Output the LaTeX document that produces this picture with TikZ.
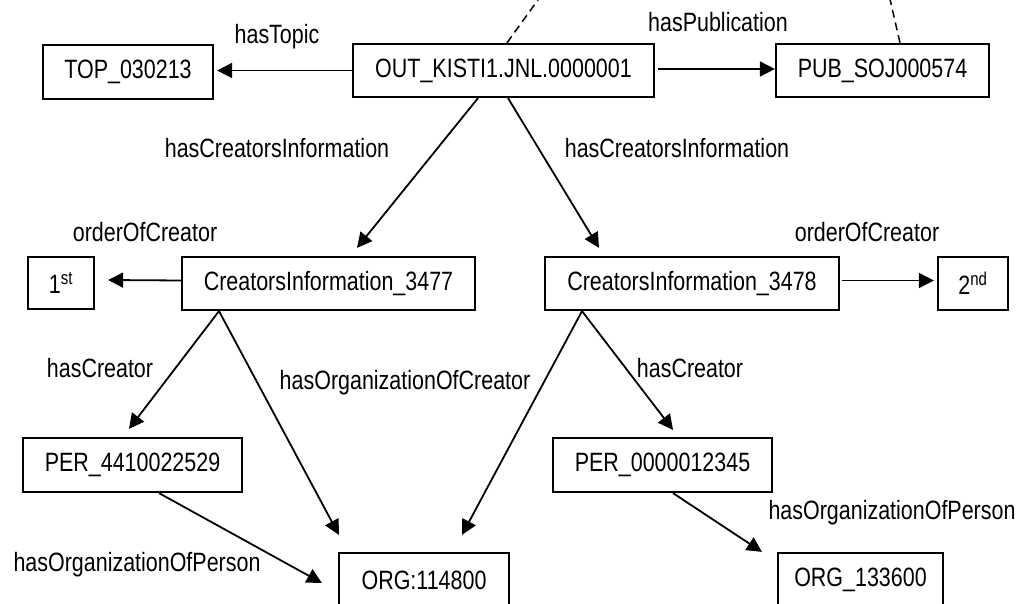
\documentclass[tikz,border=0pt]{standalone}
\usepackage{fontspec}
\setmainfont{Liberation Sans}[FakeStretch=0.81]
\usetikzlibrary{arrows.meta}
\begin{document}
\begin{tikzpicture}[x=1pt,y=-1pt,
  every node/.style={font=\fontsize{26.5}{31}\selectfont, inner sep=0pt},
  res/.style={draw, line width=2.2pt, minimum height=54pt},
  lbl/.style={},
  rel/.style={line width=1.8pt, -{Triangle[length=15pt,width=15pt]}},
  link/.style={line width=1.5pt, dash pattern=on 8pt off 5pt}]
  \useasboundingbox (0,0) rectangle (1020,604);
  \clip (0,0) rectangle (1020,604);

  % resources
  \node[res, minimum width=170pt] (top) at (128,72) {TOP\_030213};
  \node[res, minimum width=301pt, minimum height=53pt] (out) at (503.5,70.5) {OUT\_KISTI1.JNL.0000001};
  \node[res, minimum width=213pt, minimum height=53pt] (pub) at (882.5,70.5) {PUB\_SOJ000574};
  \node[res, minimum width=66pt, minimum height=52pt] (first) at (61,283) {1\textsuperscript{st}};
  \node[res, minimum width=293pt, minimum height=53pt] (ci1) at (328.5,283.5) {CreatorsInformation\_3477};
  \node[res, minimum width=294pt, minimum height=53pt] (ci2) at (692,283.5) {CreatorsInformation\_3478};
  \node[res, minimum width=70pt, minimum height=53pt] (second) at (973,283.5) {2\textsuperscript{nd}};
  \node[res, minimum width=219pt] (per1) at (132.5,465) {PER\_4410022529};
  \node[res, minimum width=219pt] (per2) at (662.5,465) {PER\_0000012345};
  \node[res, minimum width=170pt] (org1) at (424,580) {ORG:114800};
  \node[res, minimum width=165pt] (org2) at (860.5,580) {ORG\_133600};

  % property labels
  \node[lbl] (lTopic) at (277,37) {hasTopic};
  \node[lbl] (lPub) at (718,22) {hasPublication};
  \node[lbl] (lCI1) at (277,148) {hasCreatorsInformation};
  \node[lbl] (lCI2) at (677,148) {hasCreatorsInformation};
  \node[lbl] (lOrd1) at (145,232) {orderOfCreator};
  \node[lbl] (lOrd2) at (867,232) {orderOfCreator};
  \node[lbl] (lCr1) at (100,368) {hasCreator};
  \node[lbl] (lCr2) at (690,368) {hasCreator};
  \node[lbl] (lOrgC) at (405,383) {hasOrganizationOfCreator};
  \node[lbl] (lOrgP1) at (137,565) {hasOrganizationOfPerson};
  \node[lbl] (lOrgP2) at (892,513) {hasOrganizationOfPerson};

  % links leaving the top edge
  \coordinate (up1) at (540,-3);
  \coordinate (up2) at (889.5,-3);
  \draw[link] ([xshift=3.5pt]out.north) -- (up1);
  \draw[link] ([xshift=17.5pt]pub.north) -- (up2);

  % properties
  \draw[rel] (out.west) -- ([xshift=3pt,yshift=1.5pt]top.east);
  \draw[rel] ([xshift=3pt,yshift=1.5pt]out.east) -- ([yshift=1.5pt]pub.west);
  \draw[rel] ([xshift=-25.5pt]out.south) -- ([xshift=28.5pt,yshift=8pt]ci1.north);
  \draw[rel] ([xshift=4.5pt]out.south) -- ([xshift=-93pt,yshift=8pt]ci2.north);
  \draw[rel] ([yshift=3pt]ci1.west) -- ([xshift=13pt,yshift=3pt]first.east);
  \draw[rel] ([xshift=2pt,yshift=3pt]ci2.east) -- ([xshift=-3pt,yshift=3pt]second.west);
  \draw[rel] ([xshift=-109.5pt]ci1.south) -- ([xshift=-3.5pt,yshift=8pt]per1.north);
  \draw[rel] ([xshift=-109.5pt]ci1.south) -- ([xshift=1pt,yshift=17pt]org1.north west);
  \draw[rel] ([xshift=-110pt]ci2.south) -- ([xshift=38pt,yshift=17pt]org1.north);
  \draw[rel] ([xshift=-110pt]ci2.south) -- ([xshift=10.5pt,yshift=7pt]per2.north);
  \draw[rel] ([xshift=26.5pt]per1.south) -- ([xshift=-16pt,yshift=-3pt]org1.west);
  \draw[rel] ([xshift=10.5pt]per2.south) -- ([xshift=-15pt]org2.north west);
\end{tikzpicture}
\end{document}
